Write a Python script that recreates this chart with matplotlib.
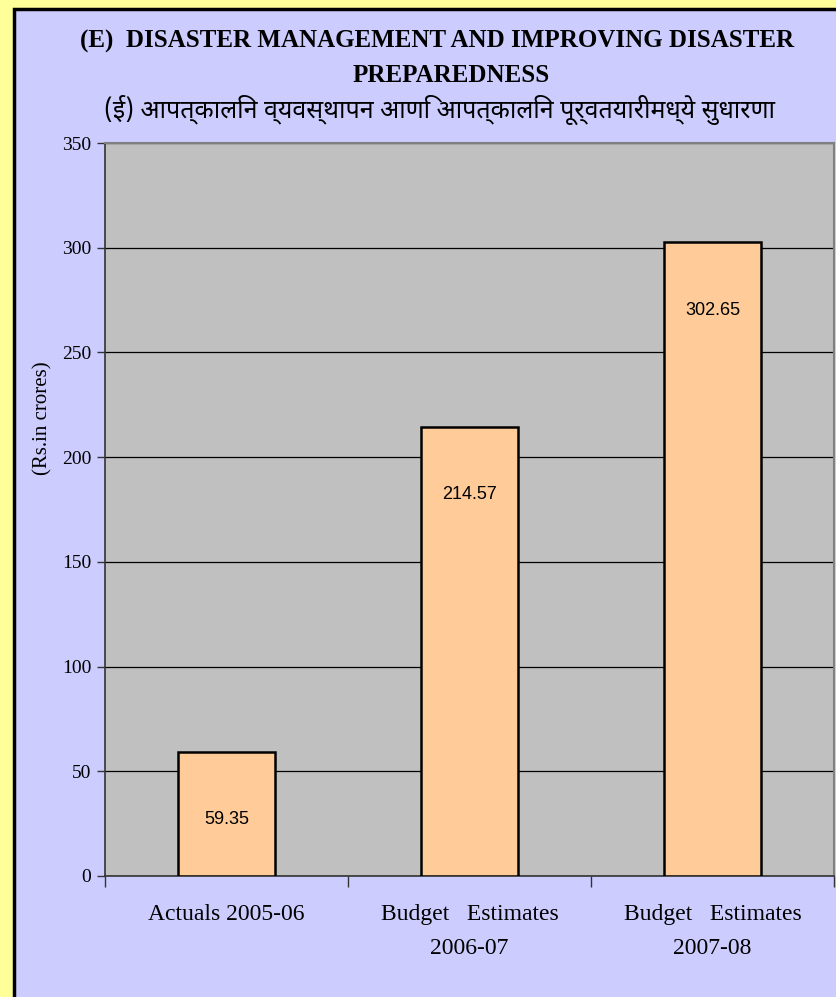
import matplotlib.pyplot as plt
from matplotlib.patches import Rectangle

# data
categories = ["Actuals 2005-06", "Budget   Estimates\n2006-07", "Budget   Estimates\n2007-08"]
values = [59.35, 214.57, 302.65]
value_labels = ["59.35", "214.57", "302.65"]
yticks = [0, 50, 100, 150, 200, 250, 300, 350]

title_en_1 = "(E)  DISASTER MANAGEMENT AND IMPROVING DISASTER"
title_en_2 = "PREPAREDNESS"
title_mr = "(ई) आपत्कालिन व्यवस्थापन आणि आपत्कालिन पूर्वतयारीमध्ये सुधारणा"

serif = ["Liberation Serif", "DejaVu Serif"]
deva = ["Noto Sans Devanagari", "Lohit Devanagari", "FreeSans", "Liberation Serif", "DejaVu Sans"]

W, H = 836, 997
fig = plt.figure(figsize=(W / 100, H / 100), dpi=100)
fig.patch.set_facecolor("#FFFF99")

# lavender chart area with black border on left/top
panel = Rectangle((14 / W, -0.01), 1.0, 1 - 9 / H + 0.01, transform=fig.transFigure,
                  facecolor="#CCCCFF", edgecolor="black", linewidth=2.5, zorder=-1)
fig.patches.append(panel)

ax = fig.add_axes([105 / W, 1 - 876 / H, 729 / W, 733 / H])
ax.set_facecolor("#C0C0C0")

x = list(range(len(categories)))
ax.bar(x, values, width=0.40, color="#FFCC99", edgecolor="black", linewidth=1.8, zorder=3)

for xi, v, lab in zip(x, values, value_labels):
    ax.annotate(lab, (xi, v), xytext=(0, -49), textcoords="offset points",
                ha="center", va="center", fontsize=13, family="Liberation Sans", zorder=4)

ax.set_xlim(-0.5, len(categories) - 0.5)
ax.set_ylim(0, 350)
ax.set_yticks(yticks)
ax.set_yticklabels([str(t) for t in yticks], family=serif, fontsize=14)
ax.yaxis.grid(True, color="black", linewidth=0.9, zorder=1)
ax.set_axisbelow(True)

# category labels below, ticks at boundaries
ax.set_xticks([i - 0.5 for i in range(len(categories) + 1)])
ax.set_xticklabels([])
ax.tick_params(axis="x", length=8, width=1, color="#333333", direction="out")
ax.tick_params(axis="y", length=6, width=1, color="#333333", direction="out", pad=4)
for xi, lab in zip(x, categories):
    ax.text(xi, -0.038, lab, transform=ax.get_xaxis_transform(), ha="center", va="top",
            family=serif, fontsize=17, linespacing=1.8)

for s in ["top", "right"]:
    ax.spines[s].set_color("#808080")
    ax.spines[s].set_linewidth(1.5)
for s in ["left", "bottom"]:
    ax.spines[s].set_color("#333333")
    ax.spines[s].set_linewidth(1.2)

fig.text(43 / W, 1 - 418 / H, "(Rs.in crores)", rotation=90, ha="center", va="center",
         family=serif, fontsize=15)

fig.text(0.523, 1 - 48 / H, title_en_1, ha="center", va="baseline", family=serif,
         fontsize=18, fontweight="bold")
fig.text(0.54, 1 - 82 / H, title_en_2, ha="center", va="baseline", family=serif,
         fontsize=18, fontweight="bold")
fig.text(0.526, 1 - 110 / H, title_mr, ha="center", va="center", family=deva,
         fontsize=18, fontweight="bold")

fig.savefig("out.png", dpi=100, facecolor=fig.get_facecolor())
